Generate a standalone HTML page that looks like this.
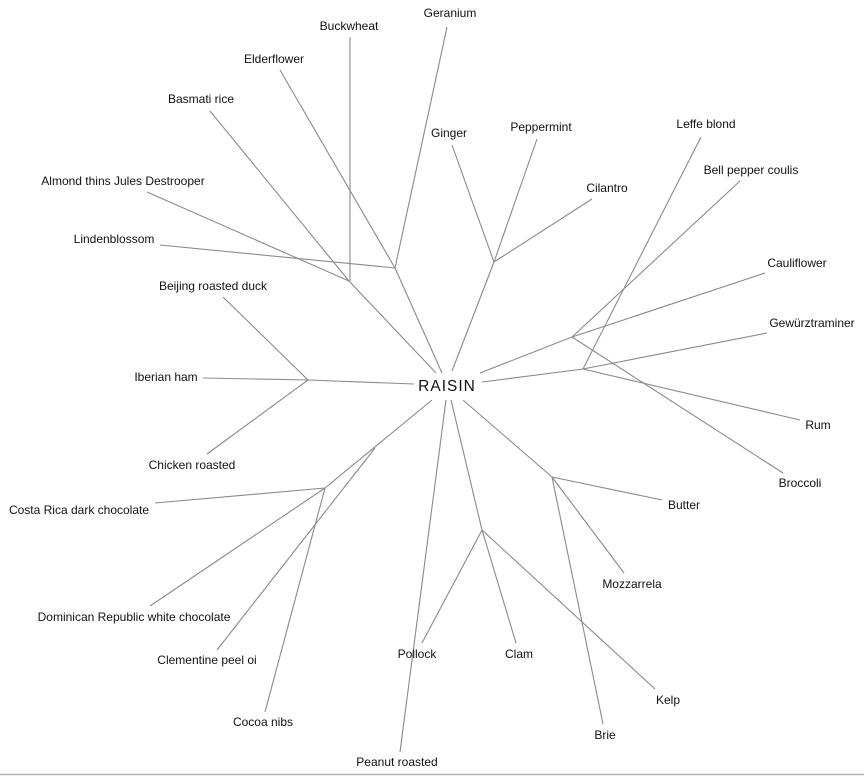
<!DOCTYPE html>
<html><head><meta charset="utf-8"><style>
html,body{margin:0;padding:0;background:#fff;}
svg{display:block;}
text{font-family:"Liberation Sans",Arial,sans-serif;font-size:12px;fill:#111;}
</style></head><body>
<svg width="864" height="777" viewBox="0 0 864 777" xmlns="http://www.w3.org/2000/svg">
<g stroke="#8a8a8a" stroke-width="1.1" fill="none">
<!-- upper-left cluster -->
<line x1="350" y1="37" x2="350" y2="281"/>
<line x1="210" y1="111" x2="349" y2="281"/>
<line x1="147" y1="192" x2="349" y2="281"/>
<line x1="349" y1="281" x2="436" y2="373"/>
<line x1="447" y1="27" x2="395" y2="268"/>
<line x1="280" y1="70" x2="395" y2="268"/>
<line x1="160" y1="245" x2="395" y2="268"/>
<line x1="395" y1="268" x2="442" y2="373"/>
<!-- ginger cluster -->
<line x1="452" y1="145" x2="494" y2="262"/>
<line x1="537" y1="139" x2="494" y2="262"/>
<line x1="592" y1="199" x2="494" y2="262"/>
<line x1="494" y1="262" x2="452" y2="371"/>
<!-- left cluster -->
<line x1="223" y1="297" x2="308" y2="380"/>
<line x1="203" y1="378" x2="308" y2="380"/>
<line x1="207" y1="454" x2="308" y2="380"/>
<line x1="308" y1="380" x2="414" y2="384"/>
<!-- right clusters -->
<line x1="701" y1="137" x2="583" y2="369"/>
<line x1="767" y1="333" x2="583" y2="369"/>
<line x1="800" y1="420" x2="583" y2="369"/>
<line x1="583" y1="369" x2="482" y2="382"/>
<line x1="740" y1="181" x2="572" y2="337"/>
<line x1="765" y1="273" x2="572" y2="337"/>
<line x1="783" y1="473" x2="572" y2="337"/>
<line x1="572" y1="337" x2="480" y2="373"/>
<!-- lower-left cluster -->
<line x1="432" y1="400" x2="325" y2="488"/>
<line x1="155" y1="503" x2="325" y2="488"/>
<line x1="150" y1="606" x2="325" y2="488"/>
<line x1="265" y1="712" x2="325" y2="488"/>
<line x1="217" y1="650" x2="375" y2="448"/>
<!-- peanut -->
<line x1="446" y1="400" x2="400" y2="752"/>
<!-- seafood -->
<line x1="451" y1="400" x2="482" y2="530"/>
<line x1="482" y1="530" x2="422" y2="643"/>
<line x1="482" y1="530" x2="516" y2="643"/>
<line x1="482" y1="530" x2="655" y2="689"/>
<!-- dairy -->
<line x1="463" y1="400" x2="552" y2="477"/>
<line x1="552" y1="477" x2="662" y2="500"/>
<line x1="552" y1="477" x2="624" y2="573"/>
<line x1="552" y1="477" x2="603" y2="724"/>
</g>
<line x1="0" y1="774.5" x2="864" y2="774.5" stroke="#b0b0b0" stroke-width="1.5"/>
<text x="447" y="391" text-anchor="middle" style="font-size:15.5px;letter-spacing:1px">RAISIN</text>
<g text-anchor="middle">
<text x="450" y="17">Geranium</text>
<text x="349" y="30">Buckwheat</text>
<text x="274" y="63">Elderflower</text>
<text x="201" y="103">Basmati rice</text>
<text x="123" y="185">Almond thins Jules Destrooper</text>
<text x="114" y="243">Lindenblossom</text>
<text x="213" y="290">Beijing roasted duck</text>
<text x="166" y="381">Iberian ham</text>
<text x="192" y="469">Chicken roasted</text>
<text x="79" y="514">Costa Rica dark chocolate</text>
<text x="134" y="621">Dominican Republic white chocolate</text>
<text x="207" y="664">Clementine peel oi</text>
<text x="263" y="726">Cocoa nibs</text>
<text x="397" y="766">Peanut roasted</text>
<text x="417" y="658">Pollock</text>
<text x="519" y="658">Clam</text>
<text x="668" y="704">Kelp</text>
<text x="605" y="739">Brie</text>
<text x="632" y="588">Mozzarrela</text>
<text x="684" y="509">Butter</text>
<text x="800" y="487">Broccoli</text>
<text x="818" y="429">Rum</text>
<text x="812" y="327">Gewürztraminer</text>
<text x="797" y="267">Cauliflower</text>
<text x="751" y="174">Bell pepper coulis</text>
<text x="706" y="128">Leffe blond</text>
<text x="607" y="192">Cilantro</text>
<text x="541" y="131">Peppermint</text>
<text x="449" y="137">Ginger</text>
</g>
</svg>
</body></html>
